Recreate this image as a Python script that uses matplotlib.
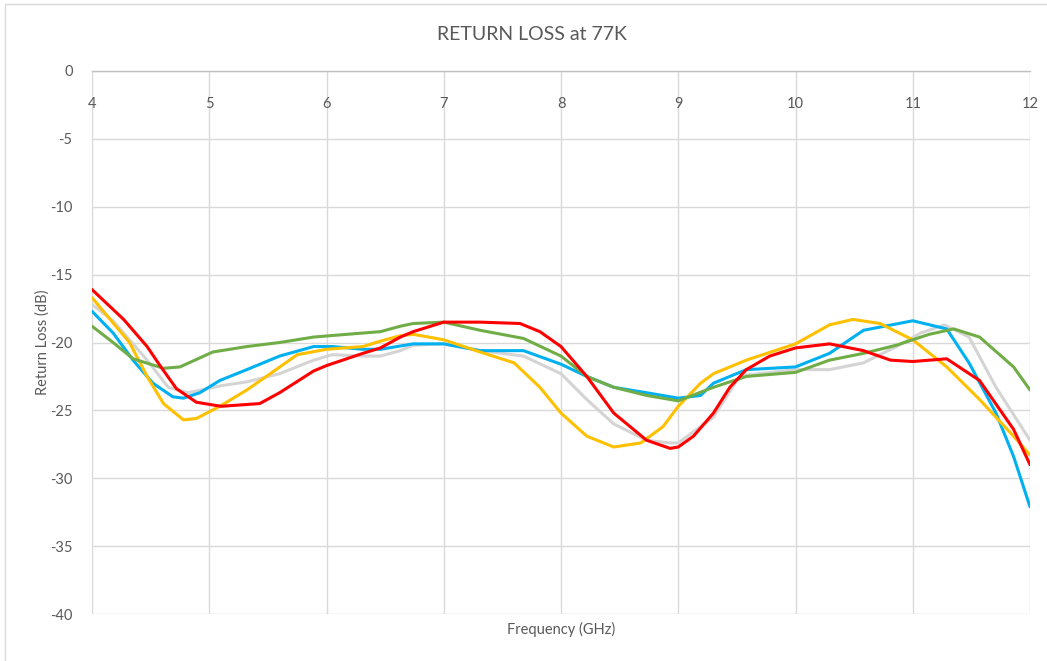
import matplotlib
matplotlib.use("Agg")
import matplotlib.pyplot as plt
from matplotlib.patches import Rectangle

plt.rcParams['font.family'] = ['Lato', 'DejaVu Sans']
plt.rcParams['axes.unicode_minus'] = False

# frequency (GHz) / return loss (dB)
f_gray = [4.0, 4.18, 4.47, 4.65, 4.82, 5.09, 5.32, 5.6, 5.89, 6.05, 6.31, 6.46, 6.63, 6.74, 7.0,
          7.31, 7.68, 8.0, 8.22, 8.45, 8.73, 8.93, 9.0, 9.19, 9.3, 9.5, 9.58, 10.0, 10.29, 10.58,
          10.86, 11.07, 11.27, 11.48, 11.71, 12.0]
rl_gray = [-17.2, -18.4, -21.3, -23.3, -23.7, -23.2, -22.9, -22.3, -21.3, -20.9, -21.0, -21.0, -20.6, -20.2, -20.1,
           -20.6, -21.0, -22.3, -24.2, -26.0, -27.2, -27.4, -27.4, -26.2, -25.5, -22.8, -22.4, -22.0, -22.0, -21.5,
           -20.3, -19.3, -18.7, -19.6, -23.3, -27.2]

f_blue = [4.0, 4.18, 4.35, 4.52, 4.69, 4.78, 4.92, 5.09, 5.32, 5.6, 5.89, 6.05, 6.31, 6.46, 6.74, 7.0,
          7.31, 7.68, 8.0, 8.22, 8.45, 8.73, 9.0, 9.19, 9.3, 9.58, 10.0, 10.29, 10.58, 11.0, 11.29,
          11.48, 11.71, 11.86, 12.0]
rl_blue = [-17.7, -19.3, -21.3, -23.0, -24.0, -24.1, -23.7, -22.8, -22.0, -21.0, -20.3, -20.3, -20.5, -20.5, -20.1, -20.1,
           -20.6, -20.6, -21.6, -22.5, -23.3, -23.7, -24.1, -23.9, -23.0, -22.0, -21.8, -20.8, -19.1, -18.4, -19.0,
           -21.5, -25.2, -28.4, -32.1]

f_yellow = [4.0, 4.32, 4.47, 4.61, 4.78, 4.89, 5.09, 5.32, 5.52, 5.75, 6.0, 6.31, 6.46, 6.63, 6.74, 7.0,
            7.31, 7.6, 7.82, 8.0, 8.22, 8.45, 8.68, 8.87, 9.0, 9.19, 9.3, 9.58, 10.0, 10.29, 10.49,
            10.72, 11.0, 11.29, 11.57, 11.86, 12.0]
rl_yellow = [-16.7, -20.0, -22.5, -24.5, -25.7, -25.6, -24.7, -23.5, -22.3, -20.9, -20.5, -20.3, -19.9, -19.5, -19.4, -19.8,
             -20.7, -21.5, -23.3, -25.2, -26.9, -27.7, -27.4, -26.2, -24.7, -23.0, -22.3, -21.3, -20.1, -18.7, -18.3,
             -18.6, -19.8, -21.8, -24.2, -26.9, -28.3]

f_green = [4.0, 4.18, 4.35, 4.61, 4.75, 5.03, 5.32, 5.6, 5.89, 6.17, 6.46, 6.63, 6.74, 7.0, 7.31, 7.68,
           8.0, 8.22, 8.45, 8.73, 9.0, 9.3, 9.58, 10.0, 10.29, 10.58, 10.86, 11.14, 11.35, 11.57,
           11.86, 12.0]
rl_green = [-18.8, -20.0, -21.2, -21.9, -21.8, -20.7, -20.3, -20.0, -19.6, -19.4, -19.2, -18.8, -18.6, -18.5, -19.1, -19.7,
            -21.0, -22.5, -23.3, -23.9, -24.3, -23.3, -22.5, -22.2, -21.3, -20.8, -20.2, -19.4, -19.0, -19.6,
            -21.8, -23.5]

f_red = [4.0, 4.27, 4.47, 4.58, 4.72, 4.89, 5.1, 5.43, 5.6, 5.89, 6.0, 6.31, 6.46, 6.63, 6.74, 7.0,
         7.31, 7.65, 7.82, 8.0, 8.22, 8.45, 8.73, 8.93, 9.0, 9.13, 9.3, 9.44, 9.58, 9.78, 10.0,
         10.29, 10.58, 10.81, 11.0, 11.29, 11.57, 11.86, 12.0]
rl_red = [-16.1, -18.3, -20.3, -21.7, -23.4, -24.4, -24.7, -24.5, -23.7, -22.1, -21.7, -20.8, -20.4, -19.6, -19.2, -18.5,
          -18.5, -18.6, -19.2, -20.3, -22.5, -25.2, -27.2, -27.8, -27.7, -26.9, -25.2, -23.3, -22.0, -21.0, -20.4,
          -20.1, -20.6, -21.3, -21.4, -21.2, -22.8, -26.4, -29.0]

series = [
    (f_gray, rl_gray, '#D4D4D4'),
    (f_blue, rl_blue, '#00B0F0'),
    (f_yellow, rl_yellow, '#FFC000'),
    (f_green, rl_green, '#70AD47'),
    (f_red, rl_red, '#FF0000'),
]

fig = plt.figure(figsize=(10.47, 6.61), dpi=100)
ax = fig.add_axes([92/1047, 1 - 614/661, (1030 - 92)/1047, (614 - 71)/661])

for f, rl, c in series:
    ax.plot(f, rl, color=c, lw=2.2, solid_capstyle='round', solid_joinstyle='round')

ax.set_xlim(4, 12)
ax.set_ylim(-40, 0)
ax.set_xticks(range(4, 13))
ax.set_yticks(range(-40, 1, 5))
ax.grid(True, color='#D9D9D9', lw=1.0)
ax.set_axisbelow(True)
for s in ['left', 'right', 'bottom']:
    ax.spines[s].set_visible(False)
ax.spines['top'].set_color('#BFBFBF')
ax.spines['top'].set_linewidth(1.0)

ax.tick_params(axis='both', length=0, labelsize=10.5, colors='#595959')
ax.tick_params(axis='y', pad=14)
# x labels sit just under the 0 line
ax.xaxis.set_ticks_position('top')
ax.xaxis.set_label_position('bottom')
for t in ax.xaxis.get_major_ticks():
    t.label2.set_va('top')
ax.tick_params(axis='x', which='both', labeltop=True, labelbottom=False, pad=-19)

ax.set_xlabel('Frequency (GHz)', fontsize=10.5, color='#595959', labelpad=6)
ax.set_ylabel('Return Loss (dB)', fontsize=10.5, color='#595959', labelpad=0)

fig.text(532/1047, 1 - 35/661, 'RETURN LOSS at 77K', ha='center', va='center',
         fontsize=14, color='#595959')

fig.patches.append(Rectangle((5/1047, -0.05), 1.1, 1 - 4/661 + 0.05, transform=fig.transFigure,
                             fill=False, edgecolor='#D9D9D9', lw=1.0))

fig.savefig('out.png', dpi=100)
